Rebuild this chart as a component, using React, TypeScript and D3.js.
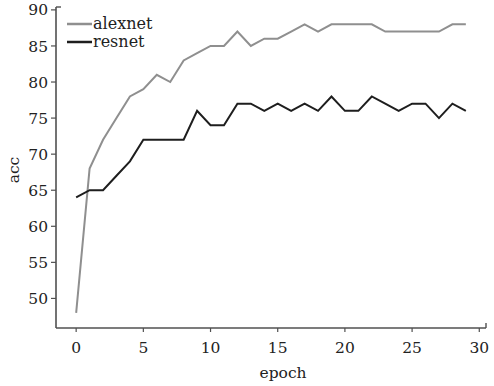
import { scaleLinear, line } from "d3";

const width = 494;
const height = 386;

const epochs = [0,1,2,3,4,5,6,7,8,9,10,11,12,13,14,15,16,17,18,19,20,21,22,23,24,25,26,27,28,29];
const alexnet = [48,68,72,75,78,79,81,80,83,84,85,85,87,85,86,86,87,88,87,88,88,88,88,87,87,87,87,87,88,88];
const resnet = [64,65,65,67,69,72,72,72,72,76,74,74,77,77,76,77,76,77,76,78,76,76,78,77,76,77,77,75,77,76];
const xTicks = [0,5,10,15,20,25,30];
const yTicks = [50,55,60,65,70,75,80,85,90];

const font = "'DejaVu Serif', serif";

export default function App() {
  const x = scaleLinear().domain([-1.5, 30.5]).range([56, 486]);
  const y = scaleLinear().domain([45.9, 90.4]).range([328, 7]);

  const mk = (vals: number[]) =>
    line<number>()
      .x((_, i) => x(epochs[i]))
      .y((d) => y(d))(vals) || "";

  const series = [
    { name: "alexnet", vals: alexnet, color: "#8f8f8f" },
    { name: "resnet", vals: resnet, color: "#1e1e1e" },
  ];

  return (
    <svg width={width} height={height} style={{ position: "absolute", left: 0, top: 0, background: "#fff" }}>
      {/* axes */}
      <line x1={x.range()[0]} x2={x.range()[0]} y1={y.range()[1]} y2={y.range()[0]} stroke="#505050" strokeWidth={1.6} />
      <line x1={x.range()[0]} x2={x.range()[1]} y1={y.range()[0]} y2={y.range()[0]} stroke="#505050" strokeWidth={1.6} />
      <line x1={x.range()[1]} x2={x.range()[1]} y1={y.range()[0]} y2={y.range()[0] - 5} stroke="#505050" strokeWidth={1.4} />
      <line x1={x.range()[0]} x2={x.range()[0] + 5} y1={y.range()[1]} y2={y.range()[1]} stroke="#505050" strokeWidth={1.4} />
      {yTicks.map((t) => (
        <g key={t}>
          <line x1={x.range()[0] - 5} x2={x.range()[0]} y1={y(t)} y2={y(t)} stroke="#505050" strokeWidth={1.2} />
          <text x={48} y={y(t)} dy="0.36em" textAnchor="end" fontFamily={font} fontSize={15.5} fill="#222">{t}</text>
        </g>
      ))}
      {xTicks.map((t) => (
        <g key={t}>
          <line x1={x(t)} x2={x(t)} y1={y.range()[0]} y2={y.range()[0] + 4} stroke="#505050" strokeWidth={1.2} />
          <text x={x(t)} y={353} textAnchor="middle" fontFamily={font} fontSize={15.5} fill="#222">{t}</text>
        </g>
      ))}
      <text x={283} y={378} textAnchor="middle" fontFamily={font} fontSize={15.5} fill="#222">epoch</text>
      <text transform="translate(19,170) rotate(-90)" textAnchor="middle" fontFamily={font} fontSize={15.5} fill="#222">acc</text>

      {series.map((s) => (
        <path key={s.name} d={mk(s.vals)} fill="none" stroke={s.color} strokeWidth={2} strokeLinejoin="miter" />
      ))}

      {series.map((s, i) => (
        <g key={s.name} transform={`translate(67,${24 + i * 18})`}>
          <line x1={0} x2={25} y1={0} y2={0} stroke={s.color} strokeWidth={2.5} />
          <text x={26} y={0} dy="0.3em" fontFamily={font} fontSize={16} fill="#222">{s.name}</text>
        </g>
      ))}
    </svg>
  );
}
